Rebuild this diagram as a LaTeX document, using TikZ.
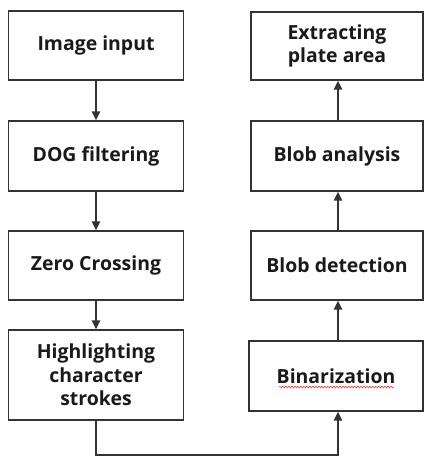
\documentclass[tikz,border=0pt]{standalone}
\usepackage{fontspec}
\setmainfont{Open Sans}
\usetikzlibrary{arrows.meta,calc,decorations.pathmorphing}
\definecolor{edge}{HTML}{333333}
\definecolor{ink}{HTML}{1A1A1A}
\begin{document}
\begin{tikzpicture}[x=1bp,y=-1bp,
  box/.style={draw=edge, line width=1.4bp, fill=white, align=center,
    font=\fontsize{19.5}{23.5}\selectfont\bfseries, text=ink, inner sep=0pt},
  lbox/.style={box, minimum width=175bp},
  rbox/.style={box, minimum width=172bp},
  flow/.style={draw=edge, line width=1.5bp, -{Triangle[length=9bp,width=8.5bp]}},
  wavy/.style={draw=red!75, line width=0.6bp,
    decorate, decoration={snake, amplitude=0.9bp, segment length=3bp}}]
\useasboundingbox (0,0) rectangle (424,457);

% left column, top to bottom
\node[lbox, minimum height=69bp] (img) at (96,45.5) {Image input};
\node[lbox, minimum height=70bp] (dog) at (96,156) {DOG filtering};
\node[lbox, minimum height=69bp] (zc)  at (96,265.5) {Zero Crossing};
\node[lbox, minimum height=90bp] (hl)  at (96,375) {Highlighting\\character\\strokes};

% right column, bottom to top
\node[rbox, minimum width=174bp, minimum height=70bp] (bin) at (336,376) {Binarization};
\node[rbox, minimum height=69bp] (bd)  at (337,265.5) {Blob detection};
\node[rbox, minimum height=70bp] (ba)  at (337,156) {Blob analysis};
\node[rbox, minimum height=68bp] (ext) at (337,46) {Extracting\\plate area};

% spell-check underline under the word
\draw[wavy] ($(bin.center)+(-57,11)$) -- ($(bin.center)+(58,11)$);

\coordinate (turn) at (96,455);
\coordinate (up) at (338,455);

\draw[flow] (img) -- (dog);
\draw[flow] (dog) -- (zc);
\draw[flow] (zc) -- (hl);
\draw[flow] (hl.south -| turn) -- (turn) -- (up) -- (up |- bin.south);
\draw[flow] (bin.north -| up) -- (up |- bd.south);
\draw[flow] (bd.north -| up) -- (up |- ba.south);
\draw[flow] (ba.north -| up) -- (up |- ext.south);
\end{tikzpicture}
\end{document}
